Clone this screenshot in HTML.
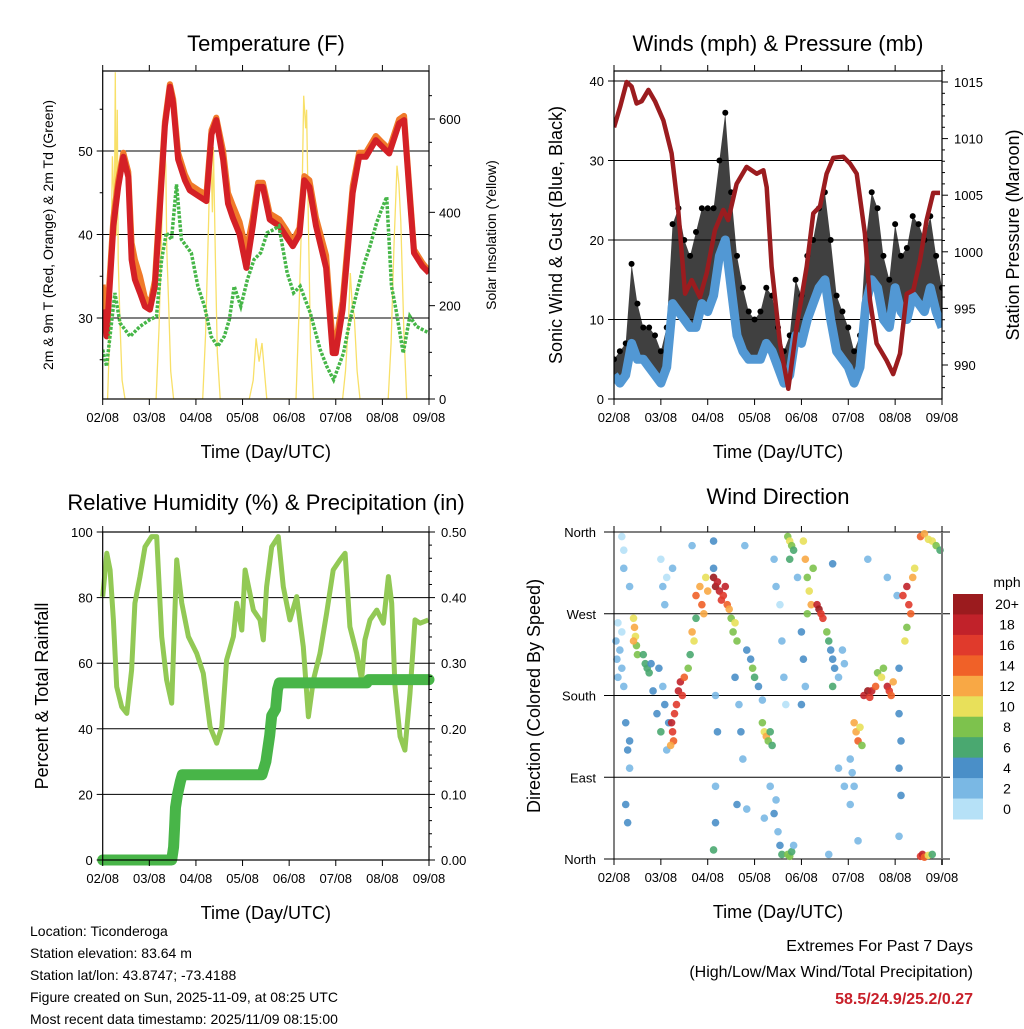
<!DOCTYPE html>
<html><head><meta charset="utf-8">
<style>
body{margin:0;background:#fff;}
svg text{font-family:"Liberation Sans",Arial,sans-serif;}
</style></head>
<body>
<svg id="c" width="1024" height="1024" viewBox="0 0 1024 1024" xmlns="http://www.w3.org/2000/svg"></svg>
<script>
// ===== Data =====
const dayLabels = ["02/08","03/08","04/08","05/08","06/08","07/08","08/08","09/08"];
// Temperature (hours since start, F)
const tempTimes = [0,2,5.5,8,10.6,13.2,14.9,16.6,19.2,21.7,24.3,26.9,29.4,32,34.6,36.3,38.8,42.3,44.8,50,53.4,56,58.5,62,64.5,67,70.5,74,77.3,80,82.5,86,91,94.4,97.9,101.3,103.8,106.4,109.8,115,118.4,120,123.5,128.7,132,135.5,140.6,144,147.5,152.6,155.2,157.7,160.3,164.6,168];
const temp2m = [31,27.8,41,45.7,49.3,46.9,37,34.6,33,31.4,31,33.8,43,53,57.7,55.7,49,46.5,45.3,44.5,44,52,53.7,49,43.7,42,40,36,41,45.7,45.7,41.8,41,39.8,38.6,40,46.5,45.7,41,36,25.8,25.8,31,45,49.3,49.3,51.3,50.5,49.7,53.3,53.7,45.7,37.8,36.2,35.4];
const temp9m = [34,29,42,46.5,49.8,47.5,39,37,35,32.5,31.5,34.5,44,53.5,58,56.2,49.8,47.2,46,45.2,44.8,52.5,54,50,45,43.5,41.5,38,42,46.2,46.2,42.5,41.8,40.6,39.2,40.8,47,46.5,42,37.5,27,27,32,45.8,49.8,49.8,51.8,51,50.2,53.8,54.2,46.2,38.2,36.6,35.6];
const dewTimes = [0,2,6.3,8.9,14.1,19.2,24.3,27.7,30.3,32.8,35.4,38,40.5,45.6,49,52.4,55.8,59.2,62.6,65.2,67.7,71.1,74.5,77.9,81.3,84.7,88.1,90.7,95,98.3,101.7,106.9,112,115.4,118.9,124,127.4,130.8,134.2,137.6,141,143.6,146.2,148.7,151.3,154.7,158.1,161.5,168];
const dew2m = [26.2,24.2,33,29.4,27.8,29,29.8,30.2,37,40.2,39.4,46,39.4,37.8,33.8,31.4,27.8,26.6,27.8,29.8,33.8,31.4,34.6,37,37.8,40.2,40.6,41,35.4,33,33.8,30.6,26.2,24.2,22.6,25.8,29.8,33,36.2,38.6,41.4,43,44.5,33.8,30.6,25.8,30.2,29,28.2];
// Solar insolation (hours, W/m2)
const solarTimes = [2.5,4,5,6,6.5,7,7.5,8,9,10,11.5, 27.5,29,30.5,31.5,32.5,33,34,35,36.5, 51.5,53,54.5,55.5,56.5,57,58,59,60.5, 75.5,77.5,79,80.5,82,84.5, 99.5,101,102.5,103.5,104.5,105,106,107,108.5, 123.5,125,126.5,127.5,128.5,129.5,131,132.5, 147,148.5,150,151.5,152.5,153.5,155,156.5];
const solarVals  = [0,200,520,400,700,350,620,300,150,40,0, 0,150,380,560,500,320,200,60,0, 0,140,380,560,400,540,300,100,0, 0,40,130,80,120,0, 0,180,400,650,580,620,350,120,0, 0,60,160,270,200,180,60,0, 0,120,330,500,460,380,150,0];
// Winds (3-hourly, mph)
const windTimes = [0,3,6,9,12,15,18,21,24,27,30,33,36,39,42,45,48,51,54,57,60,63,66,69,72,75,78,81,84,87,90,93,96,99,102,105,108,111,114,117,120,123,126,129,132,135,138,141,144,147,150,153,156,159,162,165,168];
const windSpeed = [3,2,3,7,5,5,4,3,2,4,12,11,10,9,9,12,11,13,18,20,14,8,6,5,5,5,7,6,4,2,3,8,7,10,12,14,15,10,6,5,4,2,4,12,15,14,10,9,14,11,10,13,12,11,14,11,9];
const windGust  = [5,6,7,17,12,9,9,8,6,9,22,24,20,18,21,24,24,24,30,36,26,18,14,11,10,11,14,13,9,6,8,15,13,18,20,24,26,20,13,11,9,6,8,20,26,24,18,15,22,18,19,23,22,20,23,18,14];
// Pressure (hours, mb)
const presTimes = [0,3.1,6.5,9,11.6,14.2,17.6,21,25.3,29.5,32.9,36.4,39.8,44,47.5,51.7,56,58.5,62.8,67.9,73.1,76.5,78.2,80.7,85,89.3,93.5,98.7,102.1,105.5,108.9,112.3,117.4,120.9,124.3,128.5,131.1,134.5,139.6,143,146.5,149.9,153.3,156.7,160.1,163.5,167];
const presVals  = [1011,1012.8,1015,1014.6,1013.1,1013.3,1014.3,1013.3,1011.6,1008.7,1003.7,996.3,997.5,996,998.1,1001.9,1003.7,1002.8,1006,1007.5,1006.9,1007.2,1005.7,998.7,991.9,987.9,993.3,998.7,1003.4,1004,1006.9,1008.3,1008.4,1007.8,1006.9,1001.6,995.7,991.9,990.4,989.2,991,996.3,996.6,999.2,1002.8,1005.2,1005.2];
// Relative humidity & precipitation
const rhTimes = [0,2.1,3.8,5.5,7.2,9.8,12.4,14.9,16.6,19.2,21.8,25.2,27.8,30.4,32.9,35.5,38.1,40.7,44.1,48.4,51.8,55.3,58.7,61.3,63.8,67.3,69,71.6,73.3,77.6,81,82.7,84.4,87,90.4,93,96.4,99.9,103.3,105.9,108.5,111.9,115.3,118.7,122.2,124.8,127.3,130.8,133.3,135,137.6,141.1,144.5,147.1,148.8,150.5,153.1,155.6,158.2,160.8,163.4,167.7];
const rhVals  = [80.3,93.5,88.4,73.2,52.8,46.7,44.7,57.9,78.3,86.4,95.5,98.6,98.6,68.1,54.9,47.8,91.5,78.3,68.1,63,56.9,40.6,35.6,40.6,61,68.1,78.3,70.1,88.4,76.2,73.2,67.1,83.3,95.5,98.6,83.3,73.2,80.3,65,43.7,54.9,63,75.2,88.4,91.5,93.5,71.1,63,54.9,67.1,73.2,76.2,72.2,86.4,78.3,52.8,37.6,33.5,50.8,73.2,72.2,73.2];
const precipTimes = [0,35.5,36.5,37,37.5,38.5,40,41,82,84,86,87,89,90,91,136,137,168];
const precipVals  = [0,0,0.02,0.05,0.08,0.1,0.12,0.13,0.13,0.15,0.19,0.22,0.23,0.26,0.27,0.27,0.275,0.275];
// Wind direction observations
const dirTimes = [1,1.5,2,3,4,4,5,2,4,5,5,6,7,8,6,7,8,8,10,10.5,11,11.5,12,10,15,16,17,18,19,20,22,24,26,27,28,25,23,24,25,26,27,29.5,30,31,30.5,29,33,34,35,36,32,38,39,40,41,42,42,44,45,46,47,48,51,52,53,54,55,56,57,58,59,51,51,52,52,51,53,52,60,61,62,63,62,64,65,66,63,68,70,71,72,74,76,76,77,78,79,80,81,80,82,84,85,86,83,82,83,85,86,87,88,89,90,91,92,90,89,90,91,92,97,98,99,100,101,99,102,96,97,98,96,104,105,106,107,109,110,111,112,113,115,117,118,112,123,124,125,126,127,121,122,123,121,128,130,131,132,134,135,137,138,140,141,142,143,146,147,146,147,146,145,146,148,150,151,152,153,154,150,149,157,159,161,163,165,167,157,158,159,161,163,30,40,67,94,130,115,118,110,125,68,77,112,140];
const dirDegs = [240,220,200,230,210,250,190,260,355,340,320,150,120,100,60,40,130,300,265,255,245,235,225,240,225,215,210,205,215,185,160,140,170,120,150,190,210,330,300,280,310,150,140,160,130,125,185,195,180,200,170,210,225,250,240,265,290,300,280,270,310,295,310,300,305,295,285,290,300,280,275,350,320,80,40,10,140,180,265,250,260,240,200,170,140,110,60,230,220,210,200,190,175,150,140,135,130,140,125,80,50,30,15,5,65,330,300,280,240,200,170,355,350,345,340,330,5,3,8,15,350,330,310,295,280,270,320,250,220,190,170,280,275,270,265,250,240,230,220,210,200,230,215,190,150,140,130,145,125,110,95,80,60,180,185,178,185,190,205,200,210,190,185,180,195,160,130,100,70,210,290,25,290,300,280,270,310,320,255,240,355,358,352,350,345,340,3,5,2,4,5,320,345,345,310,330,100,80,5,20,55,45,325,310];
const dirSpeeds = [2,2,3,2,2,1,2,1,1,1,2,4,4,3,4,4,4,2,10,12,11,9,8,13,6,7,6,6,5,4,5,6,4,2,4,3,4,1,2,2,1,18,17,16,14,12,18,18,16,14,17,8,6,12,10,7,14,12,15,13,10,12,20,20,19,18,17,16,18,14,12,4,4,3,4,6,4,3,8,8,10,8,4,3,4,3,4,4,5,8,6,4,3,8,10,12,8,6,6,2,4,3,4,6,2,3,2,1,3,2,1,8,10,8,6,6,8,8,6,3,10,12,9,10,12,8,8,4,4,3,4,18,20,17,16,8,6,4,4,4,3,2,3,6,12,12,14,10,9,2,2,2,2,18,20,16,18,14,9,10,8,18,16,14,12,4,4,4,4,4,3,2,16,18,16,14,12,10,8,10,14,12,10,10,8,6,16,18,14,10,6,3,2,2,2,2,3,2,2,2,2,3,4,2];
const speedBinLabels = ["0","2","4","6","8","10","12","14","16","18","20+"];
const speedBinColors = ["#b6e1f7","#7ab8e4","#4a8fc8","#4aa870","#7dc24d","#e8e05a","#f8a845","#f06128","#e03a2c","#c1222a","#9b1b1e"];

// ===== Helpers =====
const NS="http://www.w3.org/2000/svg";
const svg=document.getElementById('c');
function mk(tag,attrs,parent){const e=document.createElementNS(NS,tag);for(const k in attrs)e.setAttribute(k,attrs[k]);(parent||svg).appendChild(e);return e;}
function txt(s,x,y,size,anchor,parent,extra){const e=mk('text',Object.assign({x:x,y:y,'font-size':size,'text-anchor':anchor||'middle',fill:'#000'},extra||{}),parent);e.textContent=s;return e;}
function lin(d0,d1,p0,p1){return v=>p0+(v-d0)/(d1-d0)*(p1-p0);}
function pts(ts,vs,fx,fy){return ts.map((t,i)=>fx(t).toFixed(1)+','+fy(vs[i]).toFixed(1)).join(' ');}
function frame(g,L,R,T,B){
  mk('rect',{x:L,y:T,width:R-L,height:B-T,fill:'none',stroke:'#000','stroke-width':1.2},g);
}
function xAxis(g,fx,T,B){
  for(let i=0;i<8;i++){const x=fx(i*24);
    mk('line',{x1:x,y1:B,x2:x,y2:B+6,stroke:'#000'},g);
    mk('line',{x1:x,y1:T,x2:x,y2:T-6,stroke:'#000'},g);
    const t=txt(dayLabels[i],x,B+23,13,'middle',g);
    
    
  }
  const at=txt('Time (Day/UTC)',(fx(0)+fx(168))/2,B+59,18,'middle',g);
  
  
}

// ===== Panel 1: Temperature =====
(function(){
  const L=102.7,R=429,T=71,B=399;
  const g=mk('g',{});
  
  
  const fx=lin(0,168,L,R), fy=lin(30,50,318,151), fs=lin(0,600,399,119);
  [30,40,50].forEach(v=>mk('line',{x1:L,x2:R,y1:fy(v),y2:fy(v),stroke:'#000','stroke-width':1},g));
  const clip=mk('clipPath',{id:'cp1'},g);mk('rect',{x:L,y:T,width:R-L,height:B-T},clip);
  const pg=mk('g',{'clip-path':'url(#cp1)'},g);
  const sol=mk('polyline',{points:pts(solarTimes,solarVals,fx,fs),fill:'none',stroke:'#f8e068','stroke-width':1.3},pg);
  
  
  const o=mk('polyline',{points:pts(tempTimes,temp9m,fx,fy),fill:'none',stroke:'#f07a2a','stroke-width':6,'stroke-linejoin':'round'},pg);
  
  
  const r=mk('polyline',{points:pts(tempTimes,temp2m,fx,fy),fill:'none',stroke:'#d42026','stroke-width':6,'stroke-linejoin':'round'},pg);
  
  
  const d=mk('polyline',{points:pts(dewTimes,dew2m,fx,fy),fill:'none',stroke:'#46b648','stroke-width':3.5,'stroke-dasharray':'3 1.5'},pg);
  
  
  frame(g,L,R,T,B);
  [30,40,50].forEach(v=>{mk('line',{x1:L-6,x2:L,y1:fy(v),y2:fy(v),stroke:'#000'},g);txt(String(v),L-10,fy(v)+5,13,'end',g);});
  for(let v=25;v<=55;v+=5){if(v%10)mk('line',{x1:L-3,x2:L,y1:fy(v),y2:fy(v),stroke:'#000'},g);}
  [0,200,400,600].forEach(v=>{mk('line',{x1:R,x2:R+6,y1:fs(v),y2:fs(v),stroke:'#000'},g);txt(String(v),R+10,fs(v)+5,13,'start',g);});
  for(let v=50;v<700;v+=50){if(v%200)mk('line',{x1:R,x2:R+3,y1:fs(v),y2:fs(v),stroke:'#000'},g);}
  xAxis(g,fx,T,B);
  const t=txt('Temperature (F)',266,51,22,'middle',g);
  const yl=txt('2m & 9m T (Red, Orange) & 2m Td (Green)',0,0,14,'middle',g,{transform:'translate(53,235) rotate(-90)'});
  
  const yr=txt('Solar Insolation (Yellow)',0,0,14,'middle',g,{transform:'translate(496,235) rotate(-90)'});
  
})();

// ===== Panel 2: Winds & Pressure =====
(function(){
  const L=614,R=942,T=71,B=399;
  const g=mk('g',{});
  
  
  const fx=lin(0,168,L,R), fy=lin(0,40,399,81), fp=lin(990,1015,365,82);
  [10,20,30,40].forEach(v=>mk('line',{x1:L,x2:R,y1:fy(v),y2:fy(v),stroke:'#000'},g));
  const clip=mk('clipPath',{id:'cp2'},g);mk('rect',{x:L,y:T,width:R-L,height:B-T},clip);
  const pg=mk('g',{'clip-path':'url(#cp2)'},g);
  const up=windTimes.map((t,i)=>fx(t).toFixed(1)+','+fy(windGust[i]).toFixed(1));
  const dn=windTimes.map((t,i)=>fx(t).toFixed(1)+','+fy(windSpeed[i]).toFixed(1)).reverse();
  const area=mk('polygon',{points:up.concat(dn).join(' '),fill:'#000','fill-opacity':0.75},pg);
  
  
  windTimes.forEach((t,i)=>{
    const c=mk('circle',{cx:fx(t),cy:fy(windGust[i]),r:3,fill:'#000'},pg);
    
    
  });
  const s=mk('polyline',{points:pts(windTimes,windSpeed,fx,fy),fill:'none',stroke:'#5298d4','stroke-width':9,'stroke-linejoin':'round'},pg);
  
  
  const p=mk('polyline',{points:pts(presTimes,presVals,fx,fp),fill:'none',stroke:'#9b1c1f','stroke-width':4.5,'stroke-linejoin':'round'},pg);
  
  
  frame(g,L,R,T,B);
  [0,10,20,30,40].forEach(v=>{mk('line',{x1:L-6,x2:L,y1:fy(v),y2:fy(v),stroke:'#000'},g);txt(String(v),L-10,fy(v)+5,13,'end',g);});
  [990,995,1000,1005,1010,1015].forEach(v=>{mk('line',{x1:R,x2:R+6,y1:fp(v),y2:fp(v),stroke:'#000'},g);txt(String(v),R+12,fp(v)+5,13,'start',g);});
  for(let v=988;v<=1016;v++){if(v%5)mk('line',{x1:R,x2:R+3,y1:fp(v),y2:fp(v),stroke:'#000'},g);}
  xAxis(g,fx,T,B);
  const t=txt('Winds (mph) & Pressure (mb)',778,51,22,'middle',g);
  const yl=txt('Sonic Wind & Gust (Blue, Black)',0,0,18,'middle',g,{transform:'translate(562,235) rotate(-90)'});
  
  const yr=txt('Station Pressure (Maroon)',0,0,18,'middle',g,{transform:'translate(1019,235) rotate(-90)'});
  
})();

// ===== Panel 3: RH & Precip =====
(function(){
  const L=102.7,R=429,T=532,B=860;
  const g=mk('g',{});
  
  
  const fx=lin(0,168,L,R), fy=lin(0,100,860,532), fp=lin(0,0.5,860,532);
  [20,40,60,80].forEach(v=>mk('line',{x1:L,x2:R,y1:fy(v),y2:fy(v),stroke:'#000'},g));
  const rh=mk('polyline',{points:pts(rhTimes,rhVals,fx,fy),fill:'none',stroke:'#92c955','stroke-width':5,'stroke-linejoin':'round'},g);
  
  
  const pr=mk('polyline',{points:pts(precipTimes,precipVals,fx,fp),fill:'none',stroke:'#48b548','stroke-width':11,'stroke-linejoin':'round','stroke-linecap':'round'},g);
  
  
  frame(g,L,R,T,B);
  [0,20,40,60,80,100].forEach(v=>{mk('line',{x1:L-6,x2:L,y1:fy(v),y2:fy(v),stroke:'#000'},g);txt(String(v),L-10,fy(v)+5,13,'end',g);});
  [0,0.1,0.2,0.3,0.4,0.5].forEach(v=>{mk('line',{x1:R,x2:R+6,y1:fp(v),y2:fp(v),stroke:'#000'},g);txt(v.toFixed(2),R+12,fp(v)+5,13,'start',g);});
  for(let k=1;k<25;k++){if(k%5)mk('line',{x1:R,x2:R+3,y1:fp(k*0.02),y2:fp(k*0.02),stroke:'#000'},g);}
  xAxis(g,fx,T,B);
  const t=txt('Relative Humidity (%) & Precipitation (in)',266,510,22,'middle',g);
  const yl=txt('Percent & Total Rainfall',0,0,18,'middle',g,{transform:'translate(48,696) rotate(-90)'});
  
})();

// ===== Panel 4: Wind direction =====
(function(){
  const L=614,R=942,T=532,B=859;
  const g=mk('g',{});
  
  
  const fx=lin(0,168,L,R), fy=lin(0,360,859,532);
  [90,180,270].forEach(v=>mk('line',{x1:L-10,x2:R+8,y1:fy(v),y2:fy(v),stroke:'#000'},g));
  mk('line',{x1:L-10,x2:R+8,y1:fy(0),y2:fy(0),stroke:'#000'},g);
  mk('line',{x1:L-10,x2:R+8,y1:fy(360),y2:fy(360),stroke:'#000'},g);
  dirTimes.forEach((t,i)=>{
    const b=Math.min(10,Math.floor(dirSpeeds[i]/2));
    const c=mk('circle',{cx:fx(t),cy:fy(dirDegs[i]),r:3.8,fill:speedBinColors[b],'fill-opacity':0.9},g);
    
    
  });
  mk('line',{x1:L,x2:L,y1:T,y2:B,stroke:'#000'},g);
  mk('line',{x1:R,x2:R,y1:T,y2:B+6,stroke:'#777','stroke-width':2},g);
  ['North','East','South','West','North'].forEach((s,i)=>txt(s,L-18,fy(i*90)+5,13,'end',g));
  xAxis(g,fx,T,B);
  const t=txt('Wind Direction',778,504,22,'middle',g);
  const yl=txt('Direction (Colored By Speed)',0,0,18,'middle',g,{transform:'translate(540,696) rotate(-90)'});
  
  const cb=mk('g',{},g);
  
  
  const top=594,h=(819-594)/11;
  txt('mph',1007,587,14,'middle',cb);
  for(let i=0;i<11;i++){
    const idx=10-i;
    const rr=mk('rect',{x:953,y:top+i*h,width:30,height:h+0.5,fill:speedBinColors[idx]},cb);
    
    
    txt(speedBinLabels[idx],1007,top+i*h+h/2+5,14,'middle',cb);
  }
})();

// ===== Footer text =====
const footer=["Location: Ticonderoga","Station elevation: 83.64 m","Station lat/lon: 43.8747; -73.4188","Figure created on Sun, 2025-11-09, at 08:25 UTC","Most recent data timestamp: 2025/11/09 08:15:00"];
footer.forEach((s,i)=>{const t=txt(s,30,936+i*22,14,'start');});
let e=txt('Extremes For Past 7 Days',973,951,16,'end');
e=txt('(High/Low/Max Wind/Total Precipitation)',973,977,16,'end');
e=txt('58.5/24.9/25.2/0.27',973,1004,16,'end',null,{'font-weight':'bold',fill:'#c8202a',style:'fill:#c8202a'});
</script>
</body></html>
